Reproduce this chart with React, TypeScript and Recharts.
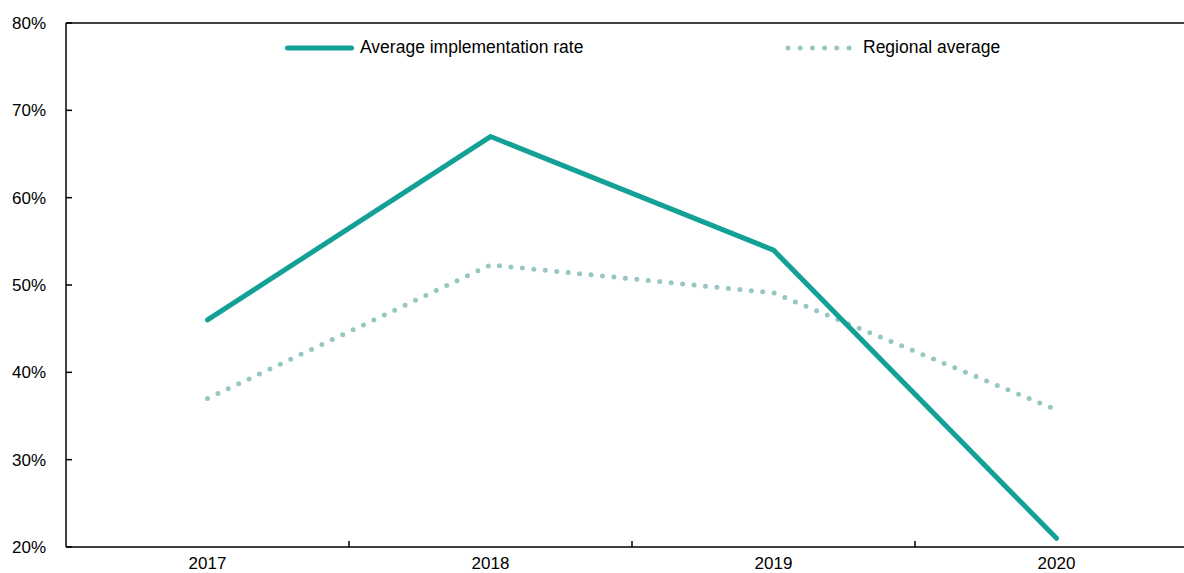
import { LineChart, Line, XAxis, YAxis, Legend, ReferenceLine } from 'recharts'

const years = ['2017', '2018', '2019', '2020']
const implementationRate = [46, 67, 54, 21]
const regionalAverage = [37, 52.3, 49.1, 35.7]
const yTicks = [20, 30, 40, 50, 60, 70, 80]

const teal = '#12A097'
const lightTeal = '#96C7C2'
const font = '"Liberation Sans", Arial, sans-serif'

const data = years.map((year, i) => ({
  x: i + 0.5,
  year,
  rate: implementationRate[i],
  regional: regionalAverage[i],
}))

// labels sit at band centres, small tick marks at the band edges
const xTicks = years.flatMap((_, i) => (i === 0 ? [i + 0.5] : [i, i + 0.5]))

const XTick = ({ x, y, payload }: any) => {
  const v = payload.value
  if (Number.isInteger(v)) {
    return <line x1={x} x2={x} y1={y} y2={y - 6} stroke="#000" strokeWidth={1.5} />
  }
  return (
    <text x={x} y={y + 22} textAnchor="middle" fill="#000" fontSize={17} fontFamily={font}>
      {years[Math.floor(v)]}
    </text>
  )
}

const YTick = ({ x, y, payload }: any) => (
  <g>
    <line x1={x} x2={x + 6} y1={y} y2={y} stroke="#000" strokeWidth={1.5} />
    <text x={x - 20} y={y} dy="0.35em" textAnchor="end" fill="#000" fontSize={17} fontFamily={font}>
      {payload.value}%
    </text>
  </g>
)

const renderLegend = () => (
  <div style={{ display: 'flex', alignItems: 'center', fontFamily: font, fontSize: 17.5, color: '#000' }}>
    <svg width={77} height={12}>
      <line x1={4.5} x2={68.5} y1={6} y2={6} stroke={teal} strokeWidth={5} strokeLinecap="round" />
    </svg>
    <span style={{ width: 425, whiteSpace: 'nowrap' }}>Average implementation rate</span>
    <svg width={78} height={12}>
      <line x1={3} x2={64} y1={6} y2={6} stroke={lightTeal} strokeWidth={5} strokeLinecap="round" strokeDasharray="0 12.2" />
    </svg>
    <span style={{ whiteSpace: 'nowrap' }}>Regional average</span>
  </div>
)

export default function App() {
  return (
    <div style={{ position: 'absolute', left: 0, top: 0, width: 1184, height: 573, overflow: 'hidden', background: '#fff' }}>
      <LineChart width={1200} height={573} data={data} margin={{ top: 23, right: 2, bottom: 0, left: 0 }}>
        <XAxis
          dataKey="x"
          type="number"
          domain={[0, years.length]}
          ticks={xTicks}
          interval={0}
          tick={<XTick />}
          tickLine={false}
          tickSize={0}
          tickMargin={0}
          height={26}
          axisLine={{ stroke: '#000', strokeWidth: 1.5 }}
        />
        <YAxis
          type="number"
          domain={[20, 80]}
          ticks={yTicks}
          interval={0}
          tick={<YTick />}
          tickLine={false}
          tickSize={0}
          tickMargin={0}
          width={66}
          axisLine={{ stroke: '#000', strokeWidth: 1.5 }}
        />
        <ReferenceLine y={80} stroke="#000" strokeWidth={1.5} />
        <Legend
          verticalAlign="middle"
          align="center"
          content={renderLegend}
          wrapperStyle={{ top: 37, left: 283, width: 'auto' }}
        />
        <Line
          dataKey="regional"
          name="Regional average"
          stroke={lightTeal}
          strokeWidth={5}
          strokeLinecap="round"
          strokeDasharray="0 11.5"
          dot={false}
          isAnimationActive={false}
        />
        <Line
          dataKey="rate"
          name="Average implementation rate"
          stroke={teal}
          strokeWidth={5}
          strokeLinecap="round"
          strokeLinejoin="round"
          dot={false}
          isAnimationActive={false}
        />
      </LineChart>
    </div>
  )
}
